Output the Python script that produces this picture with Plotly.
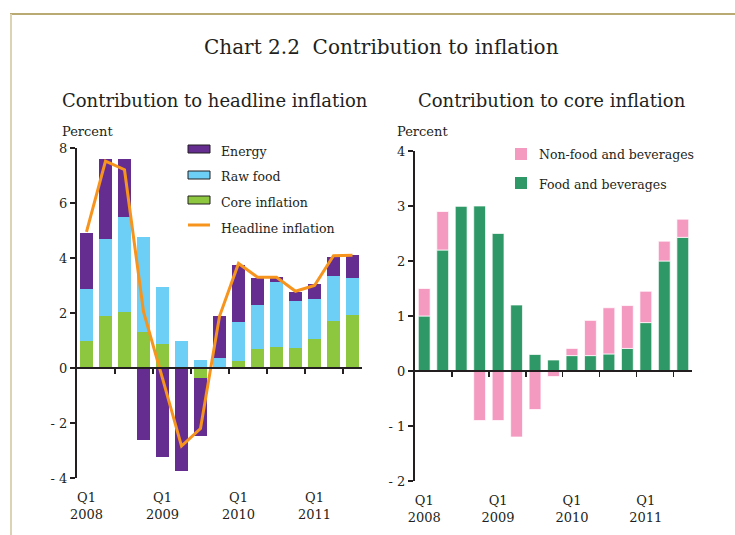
import plotly.graph_objects as go

W, H = 735, 535
OFF = 0  # body margin removed via post_script below

# ---------------- data ----------------
quarters = ["2008Q1", "2008Q2", "2008Q3", "2008Q4",
            "2009Q1", "2009Q2", "2009Q3", "2009Q4",
            "2010Q1", "2010Q2", "2010Q3", "2010Q4",
            "2011Q1", "2011Q2", "2011Q3"]

# Contribution to headline inflation
core_inflation = [1.00, 1.90, 2.05, 1.32, 0.88, 0.00, -0.35, 0.05, 0.27, 0.70, 0.78, 0.74, 1.07, 1.70, 1.94]
raw_food = [1.88, 2.80, 3.45, 3.46, 2.07, 1.00, 0.30, 0.31, 1.39, 1.60, 2.35, 1.71, 1.45, 1.63, 1.34]
energy = [2.03, 2.91, 2.11, -2.60, -3.25, -3.76, -2.13, 1.54, 2.07, 0.98, 0.19, 0.33, 0.55, 0.72, 0.84]
headline = [4.95, 7.52, 7.21, 2.05, -0.38, -2.84, -2.20, 1.88, 3.80, 3.30, 3.30, 2.79, 3.00, 4.08, 4.10]

# Contribution to core inflation
food_bev = [1.00, 2.20, 3.00, 3.00, 2.50, 1.20, 0.30, 0.20, 0.28, 0.28, 0.31, 0.41, 0.88, 2.00, 2.43]
nonfood_bev = [0.50, 0.70, 0.00, -0.90, -0.90, -1.20, -0.70, -0.10, 0.13, 0.64, 0.84, 0.78, 0.57, 0.36, 0.33]

tick_pos = [0, 4, 8, 12]
tick_text = ["Q1<br>2008", "Q1<br>2009", "Q1<br>2010", "Q1<br>2011"]
minor_ticks = [1.5, 3.5, 5.5, 7.5, 9.5, 11.5, 13.5]
left_yticks = [-4, -2, 0, 2, 4, 6, 8]
left_yticktext = ["- 4", "- 2", "0", "2", "4", "6", "8"]
right_yticks = [-2, -1, 0, 1, 2, 3, 4]
right_yticktext = ["- 2", "- 1", "0", "1", "2", "3", "4"]

# ---------------- style ----------------
FONT = "DejaVu Serif"
INK = "#231F20"
C_ENERGY = "#662D91"
C_RAW = "#6DCFF6"
C_CORE = "#8DC63F"
C_HEAD = "#F7941D"
C_NONFOOD = "#F49AC1"
C_FOOD = "#2E9966"


def px(x):
    return (x - OFF) / W


def py(y):
    return 1 - (y - OFF) / H


xs = list(range(len(quarters)))

fig = go.Figure()

# left panel
fig.add_trace(go.Bar(x=xs, y=core_inflation, name="Core inflation", marker_color=C_CORE,
                     marker_line_width=0, width=0.7, xaxis="x", yaxis="y", showlegend=False))
fig.add_trace(go.Bar(x=xs, y=raw_food, name="Raw food", marker_color=C_RAW,
                     marker_line_width=0, width=0.7, xaxis="x", yaxis="y", showlegend=False))
fig.add_trace(go.Bar(x=xs, y=energy, name="Energy", marker_color=C_ENERGY,
                     marker_line_width=0, width=0.7, xaxis="x", yaxis="y", showlegend=False))
fig.add_trace(go.Scatter(x=xs, y=headline, name="Headline inflation", mode="lines",
                         line=dict(color=C_HEAD, width=3), xaxis="x", yaxis="y", showlegend=False))

# right panel
fig.add_trace(go.Bar(x=xs, y=food_bev, name="Food and beverages", marker_color=C_FOOD,
                     marker_line=dict(color="rgba(255,255,255,0.7)", width=1), width=0.64,
                     xaxis="x2", yaxis="y2", showlegend=False))
fig.add_trace(go.Bar(x=xs, y=nonfood_bev, name="Non-food and beverages", marker_color=C_NONFOOD,
                     marker_line=dict(color="rgba(255,255,255,0.7)", width=1), width=0.64,
                     xaxis="x2", yaxis="y2", showlegend=False))

# zero-line axes carry the quarter tick marks
fig.add_trace(go.Scatter(x=[], y=[], xaxis="x3", yaxis="y", showlegend=False, hoverinfo="skip"))
fig.add_trace(go.Scatter(x=[], y=[], xaxis="x4", yaxis="y2", showlegend=False, hoverinfo="skip"))

L_X = [px(77), px(362)]
L_Y = [py(478), py(148)]
R_X = [px(415), px(692)]
R_Y = [py(481), py(151)]

xlab = dict(tickmode="array", tickvals=tick_pos, ticktext=tick_text, showline=False,
            ticks="outside", ticklen=7, tickcolor="rgba(0,0,0,0)", showgrid=False, zeroline=False,
            range=[-0.5, 14.5], tickfont=dict(family=FONT, size=13, color=INK), fixedrange=True,
            automargin=False)
zl = dict(tickmode="array", tickvals=minor_ticks, showticklabels=False, showline=True,
          linecolor=INK, linewidth=2, ticks="outside", ticklen=5, tickwidth=1.5, tickcolor=INK,
          showgrid=False, zeroline=False, range=[-0.5, 14.5], anchor="free", side="bottom",
          automargin=False)
ylab = dict(tickmode="array", showline=True, linecolor=INK, linewidth=2, ticks="outside",
            ticklen=5, tickwidth=1.5, tickcolor=INK, showgrid=False, zeroline=False,
            tickfont=dict(family=FONT, size=13, color=INK), fixedrange=True, automargin=False)

fig.update_layout(
    template="none",
    width=W, height=H, autosize=False,
    margin=dict(l=0, r=0, t=0, b=0, pad=0, autoexpand=False),
    paper_bgcolor="white", plot_bgcolor="rgba(0,0,0,0)",
    barmode="relative", bargap=0,
    showlegend=False,
    hovermode=False,
    font=dict(family=FONT, color=INK),
    xaxis=dict(domain=L_X, anchor="y", **xlab),
    yaxis=dict(domain=L_Y, anchor="x", range=[-4, 8], tickvals=left_yticks,
               ticktext=left_yticktext, **ylab),
    xaxis2=dict(domain=R_X, anchor="y2", **xlab),
    yaxis2=dict(domain=R_Y, anchor="x2", range=[-2, 4], tickvals=right_yticks,
                ticktext=right_yticktext, **ylab),
    xaxis3=dict(domain=L_X, overlaying="x", position=py(368), **zl),
    xaxis4=dict(domain=R_X, overlaying="x2", position=py(371), **zl),
)

# frame lines
fig.add_shape(type="line", xref="paper", yref="paper", x0=px(10), x1=1, y0=py(14), y1=py(14),
              line=dict(color="#B9AA74", width=2))
fig.add_shape(type="line", xref="paper", yref="paper", x0=px(11), x1=px(11), y0=py(14), y1=0,
              line=dict(color="#DCD2B4", width=2))

ann = []


def text(x, y, s, size, anchor="left"):
    ann.append(dict(x=px(x), y=py(y), xref="paper", yref="paper", text=s, showarrow=False,
                    xanchor=anchor, yanchor="middle", font=dict(family=FONT, size=size, color=INK)))


text(381, 47, "Chart 2.2\u00a0 Contribution to inflation", 20, "center")
text(60, 100, "Contribution to headline inflation", 18)
text(416, 100, "Contribution to core inflation", 18)
text(60, 132, "Percent", 13)
text(395, 132, "Percent", 13)

# left legend
leg_left = [("Energy", C_ENERGY, 149), ("Raw food", C_RAW, 175), ("Core inflation", C_CORE, 200)]
for label, col, yc in leg_left:
    fig.add_shape(type="rect", xref="paper", yref="paper", x0=px(188), x1=px(210),
                  y0=py(yc - 4), y1=py(yc + 4), fillcolor=col, line=dict(color=INK, width=1))
    text(219, yc + 2, label, 12.5)
fig.add_shape(type="line", xref="paper", yref="paper", x0=px(188), x1=px(210),
              y0=py(225), y1=py(225), line=dict(color=C_HEAD, width=3))
text(219, 228, "Headline inflation", 12.5)

# right legend
leg_right = [("Non-food and beverages", C_NONFOOD, 154), ("Food and beverages", C_FOOD, 183)]
for label, col, yc in leg_right:
    fig.add_shape(type="rect", xref="paper", yref="paper", x0=px(515), x1=px(527),
                  y0=py(yc - 6), y1=py(yc + 6), fillcolor=col, line=dict(width=0))
    text(537, yc + 1, label, 12.5)

fig.update_layout(annotations=ann)

fig.write_html("out.html",
               config={"displayModeBar": False, "staticPlot": True},
               post_script="document.body.style.margin='0';document.body.style.overflow='hidden';")
